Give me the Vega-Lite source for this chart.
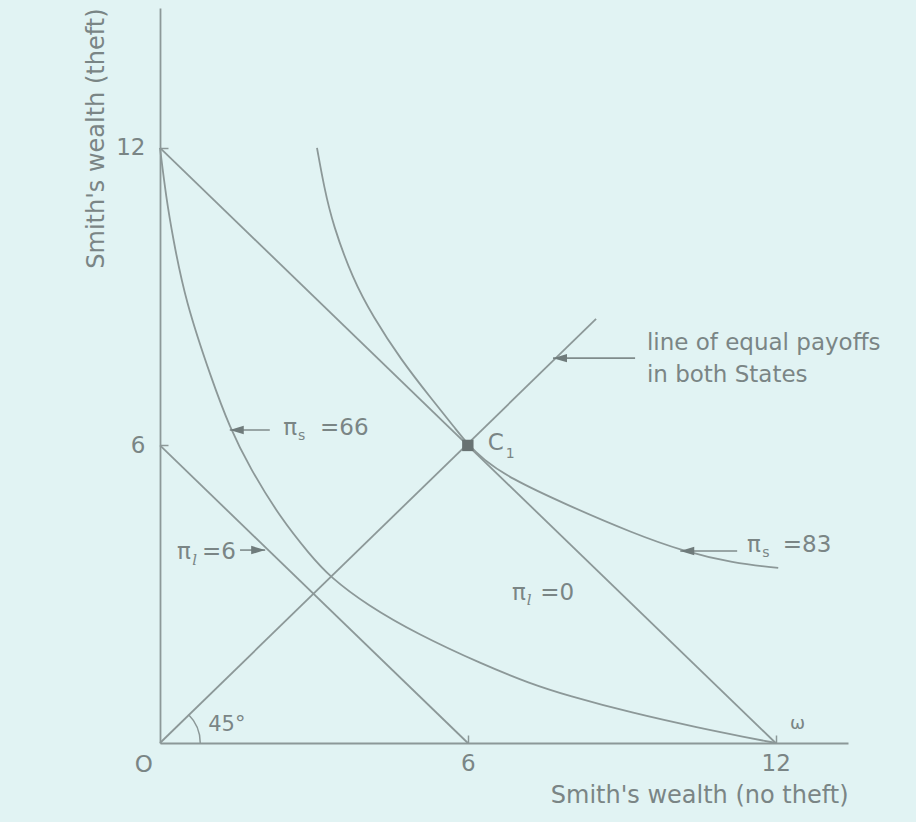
{
  "$schema": "https://vega.github.io/schema/vega-lite/v6.json",
  "width": 688,
  "height": 735,
  "autosize": {"type": "none"},
  "padding": {"left": 160, "top": 8, "right": 68, "bottom": 79},
  "background": "#e1f3f3",
  "config": {"view": {"stroke": null}, "font": "DejaVu Sans"},
  "datasets": {
    "curves": [
      {"s": "budget", "x": 0, "y": 12},
      {"s": "budget", "x": 12, "y": 0},
      {"s": "pil6", "x": 0, "y": 6},
      {"s": "pil6", "x": 6, "y": 0},
      {"s": "equal", "x": 0, "y": 0},
      {"s": "equal", "x": 8.5, "y": 8.55},
      {"s": "pis66", "x": 0, "y": 12},
      {"s": "pis66", "x": 0.12, "y": 11.0},
      {"s": "pis66", "x": 0.25, "y": 10.2},
      {"s": "pis66", "x": 0.49, "y": 8.93},
      {"s": "pis66", "x": 1.01, "y": 7.32},
      {"s": "pis66", "x": 1.36, "y": 6.36},
      {"s": "pis66", "x": 1.75, "y": 5.55},
      {"s": "pis66", "x": 2.34, "y": 4.55},
      {"s": "pis66", "x": 2.92, "y": 3.8},
      {"s": "pis66", "x": 3.31, "y": 3.35},
      {"s": "pis66", "x": 4.04, "y": 2.78},
      {"s": "pis66", "x": 5.01, "y": 2.2},
      {"s": "pis66", "x": 6.3, "y": 1.58},
      {"s": "pis66", "x": 7.21, "y": 1.2},
      {"s": "pis66", "x": 7.93, "y": 0.96},
      {"s": "pis66", "x": 9.22, "y": 0.6},
      {"s": "pis66", "x": 10.53, "y": 0.3},
      {"s": "pis66", "x": 11.4, "y": 0.12},
      {"s": "pis66", "x": 12, "y": 0},
      {"s": "pis83", "x": 3.06, "y": 12},
      {"s": "pis83", "x": 3.2, "y": 11.2},
      {"s": "pis83", "x": 3.37, "y": 10.45},
      {"s": "pis83", "x": 3.76, "y": 9.35},
      {"s": "pis83", "x": 4.15, "y": 8.6},
      {"s": "pis83", "x": 4.68, "y": 7.75},
      {"s": "pis83", "x": 5.32, "y": 6.9},
      {"s": "pis83", "x": 5.75, "y": 6.35},
      {"s": "pis83", "x": 6.0, "y": 6.02},
      {"s": "pis83", "x": 6.3, "y": 5.72},
      {"s": "pis83", "x": 6.8, "y": 5.35},
      {"s": "pis83", "x": 7.93, "y": 4.8},
      {"s": "pis83", "x": 9.22, "y": 4.23},
      {"s": "pis83", "x": 10.19, "y": 3.87},
      {"s": "pis83", "x": 11.17, "y": 3.63},
      {"s": "pis83", "x": 12.05, "y": 3.53}
    ],
    "arrows": [
      {"a": "equal", "x": 9.26, "tip": 7.66, "y": 7.76, "dir": "left"},
      {"a": "p66", "x": 2.14, "tip": 1.36, "y": 6.31, "dir": "left"},
      {"a": "p6", "x": 1.56, "tip": 2.05, "y": 3.89, "dir": "right"},
      {"a": "p83", "x": 11.25, "tip": 10.14, "y": 3.87, "dir": "left"}
    ],
    "labels": [
      {"t": "line of equal payoffs", "x": 9.49, "y": 8.06, "k": "m"},
      {"t": "in both States", "x": 9.49, "y": 7.42, "k": "m"},
      {"t": "π", "x": 2.4, "y": 6.35, "k": "m"},
      {"t": "s", "x": 2.69, "y": 6.19, "k": "s"},
      {"t": "=66", "x": 3.12, "y": 6.35, "k": "m"},
      {"t": "π", "x": 0.33, "y": 3.85, "k": "m"},
      {"t": "l", "x": 0.63, "y": 3.69, "k": "si"},
      {"t": "=6", "x": 0.82, "y": 3.85, "k": "m"},
      {"t": "π", "x": 11.44, "y": 3.99, "k": "m"},
      {"t": "s", "x": 11.74, "y": 3.83, "k": "s"},
      {"t": "=83", "x": 12.14, "y": 3.99, "k": "m"},
      {"t": "π", "x": 6.86, "y": 3.02, "k": "m"},
      {"t": "l", "x": 7.15, "y": 2.88, "k": "si"},
      {"t": "=0", "x": 7.41, "y": 3.02, "k": "m"},
      {"t": "C", "x": 6.39, "y": 6.05, "k": "m"},
      {"t": "1", "x": 6.74, "y": 5.83, "k": "s"},
      {"t": "45°", "x": 0.94, "y": 0.36, "k": "a"},
      {"t": "O", "x": -0.49, "y": -0.44, "k": "m"},
      {"t": "ω", "x": 12.28, "y": 0.38, "k": "w"}
    ],
    "pts": [{"name": "C1", "x": 6, "y": 6}],
    "origin": [{"x": 0, "y": 0}]
  },
  "layer": [
    {
      "data": {"name": "curves"},
      "mark": {"type": "line", "interpolate": "basis", "color": "#8c9898", "strokeWidth": 1.8},
      "encoding": {
        "x": {
          "field": "x", "type": "quantitative",
          "scale": {"domain": [0, 13.41], "nice": false, "zero": false},
          "axis": {
            "values": [6, 12], "tickSize": -8, "tickColor": "#8c9898", "tickWidth": 1.5,
            "domainColor": "#8c9898", "domainWidth": 1.8, "grid": false,
            "labelFont": "DejaVu Sans", "labelFontSize": 23, "labelColor": "#7a8585", "labelPadding": 17,
            "title": "Smith's wealth (no theft)", "titleAnchor": "end", "titleFont": "DejaVu Sans",
            "titleFontSize": 24, "titleFontWeight": "normal", "titleColor": "#7a8585", "titlePadding": 8
          }
        },
        "y": {
          "field": "y", "type": "quantitative",
          "scale": {"domain": [0, 14.82], "nice": false, "zero": false},
          "axis": {
            "values": [6, 12], "tickSize": -8, "tickColor": "#8c9898", "tickWidth": 1.5,
            "domainColor": "#8c9898", "domainWidth": 1.8, "grid": false,
            "labelFont": "DejaVu Sans", "labelFontSize": 23, "labelColor": "#7a8585", "labelPadding": 23,
            "title": "Smith's wealth (theft)", "titleAnchor": "end", "titleFont": "DejaVu Sans",
            "titleFontSize": 24, "titleFontWeight": "normal", "titleColor": "#7a8585", "titlePadding": 7
          }
        },
        "detail": {"field": "s"}
      }
    },
    {
      "data": {"name": "origin"},
      "mark": {"type": "arc", "theta": 0.7854, "theta2": 1.5708, "radius": 41, "radius2": 39.5, "color": "#8c9898"},
      "encoding": {
        "x": {"field": "x", "type": "quantitative"},
        "y": {"field": "y", "type": "quantitative"}
      }
    },
    {
      "data": {"name": "arrows"},
      "mark": {"type": "rule", "color": "#7f8b8b", "strokeWidth": 1.6},
      "encoding": {
        "x": {"field": "x", "type": "quantitative"},
        "x2": {"field": "tip"},
        "y": {"field": "y", "type": "quantitative"}
      }
    },
    {
      "data": {"name": "arrows"},
      "mark": {"type": "point", "filled": true, "size": 196, "color": "#6f7b7b", "opacity": 1},
      "encoding": {
        "x": {"field": "tip", "type": "quantitative"},
        "y": {"field": "y", "type": "quantitative"},
        "shape": {
          "field": "dir", "type": "nominal", "legend": null,
          "scale": {"domain": ["left", "right"], "range": ["M0,0L2,-0.6L2,0.6Z", "M0,0L-2,-0.6L-2,0.6Z"]}
        }
      }
    },
    {
      "data": {"name": "pts"},
      "mark": {"type": "point", "shape": "square", "filled": true, "size": 130, "color": "#687272", "opacity": 1},
      "encoding": {
        "x": {"field": "x", "type": "quantitative"},
        "y": {"field": "y", "type": "quantitative"}
      }
    },
    {
      "data": {"name": "labels"},
      "transform": [{"filter": "datum.k === 'm'"}],
      "mark": {"type": "text", "align": "left", "baseline": "middle", "font": "DejaVu Sans", "fontSize": 23, "color": "#7a8585"},
      "encoding": {
        "x": {"field": "x", "type": "quantitative"},
        "y": {"field": "y", "type": "quantitative"},
        "text": {"field": "t"}
      }
    },
    {
      "data": {"name": "labels"},
      "transform": [{"filter": "datum.k === 's'"}],
      "mark": {"type": "text", "align": "left", "baseline": "middle", "font": "DejaVu Sans", "fontSize": 14, "color": "#7a8585"},
      "encoding": {
        "x": {"field": "x", "type": "quantitative"},
        "y": {"field": "y", "type": "quantitative"},
        "text": {"field": "t"}
      }
    },
    {
      "data": {"name": "labels"},
      "transform": [{"filter": "datum.k === 'si'"}],
      "mark": {"type": "text", "align": "left", "baseline": "middle", "font": "DejaVu Serif", "fontStyle": "italic", "fontSize": 15, "color": "#7a8585"},
      "encoding": {
        "x": {"field": "x", "type": "quantitative"},
        "y": {"field": "y", "type": "quantitative"},
        "text": {"field": "t"}
      }
    },
    {
      "data": {"name": "labels"},
      "transform": [{"filter": "datum.k === 'a'"}],
      "mark": {"type": "text", "align": "left", "baseline": "middle", "font": "DejaVu Sans", "fontSize": 21, "color": "#7a8585"},
      "encoding": {
        "x": {"field": "x", "type": "quantitative"},
        "y": {"field": "y", "type": "quantitative"},
        "text": {"field": "t"}
      }
    },
    {
      "data": {"name": "labels"},
      "transform": [{"filter": "datum.k === 'w'"}],
      "mark": {"type": "text", "align": "left", "baseline": "middle", "font": "DejaVu Sans", "fontSize": 18, "color": "#7a8585"},
      "encoding": {
        "x": {"field": "x", "type": "quantitative"},
        "y": {"field": "y", "type": "quantitative"},
        "text": {"field": "t"}
      }
    }
  ]
}
